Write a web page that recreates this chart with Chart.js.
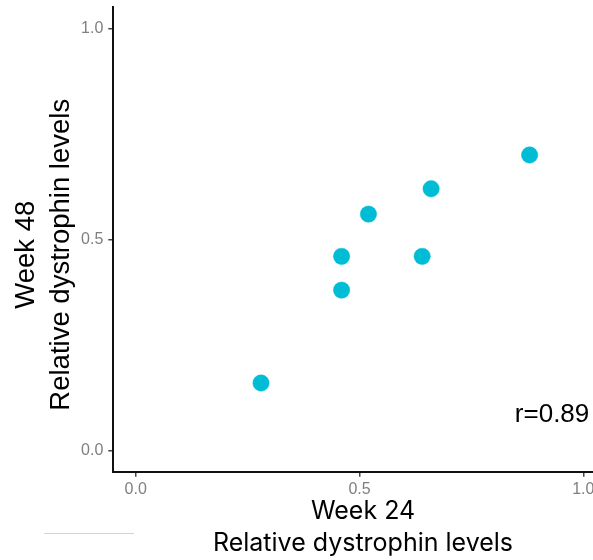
<!DOCTYPE html>
<html><head><meta charset="utf-8">
<script src="https://cdn.jsdelivr.net/npm/chart.js@4/dist/chart.umd.min.js"></script>
<style>html,body{margin:0;padding:0;overflow:hidden;background:#fff;width:593px;height:560px}</style>
</head><body>
<canvas id="c" width="630" height="560" style="display:block;width:630px;height:560px"></canvas>
<script>
const week24 = [0.28, 0.46, 0.46, 0.52, 0.64, 0.66, 0.88];
const week48 = [0.16, 0.38, 0.46, 0.56, 0.46, 0.62, 0.70];
const tickValues = [0, 0.5, 1];
const tickLabels = ['0.0', '0.5', '1.0'];
const xTitle = [' Week 24', ' Relative dystrophin levels'];
const yTitle = ['Week 48    ', 'Relative dystrophin levels    '];
const corrLabel = 'r=0.89';
const corrPos = [0.847, 0.068];

const points = week24.map((x, i) => ({x: x, y: week48[i]}));

const setTicks = s => { s.ticks = tickValues.map(v => ({value: v})); };
const fmt = v => { const i = tickValues.indexOf(v); return i >= 0 ? tickLabels[i] : ''; };

const annot = {
  id: 'annot',
  afterDatasetsDraw(chart) {
    const {ctx, scales} = chart;
    ctx.save();
    ctx.font = '26px "Liberation Sans", Arial, sans-serif';
    ctx.fillStyle = '#000';
    ctx.textBaseline = 'alphabetic';
    ctx.textAlign = 'left';
    ctx.fillText(corrLabel, scales.x.getPixelForValue(corrPos[0]), scales.y.getPixelForValue(corrPos[1]));
    ctx.strokeStyle = '#d3d3d3';
    ctx.lineWidth = 1;
    ctx.beginPath();
    ctx.moveTo(44, 533.5);
    ctx.lineTo(134, 533.5);
    ctx.stroke();
    ctx.restore();
  }
};

new Chart(document.getElementById('c'), {
  type: 'scatter',
  data: {datasets: [{
    data: points,
    backgroundColor: '#00BCD4',
    borderColor: '#00BCD4',
    borderWidth: 0.5,
    pointRadius: 8.2,
    pointHoverRadius: 8.2
  }]},
  options: {
    responsive: false,
    animation: false,
    events: [],
    layout: {autoPadding: false, padding: {top: 7.2, right: 24.3, left: 0, bottom: 0}},
    plugins: {legend: {display: false}, tooltip: {enabled: false}},
    scales: {
      x: {
        type: 'linear', min: -0.05, max: 1.05,
        afterBuildTicks: setTicks,
        afterFit: s => { s.height = 88.3; s.paddingLeft = 0; s.paddingRight = 0; },
        grid: {display: true, drawOnChartArea: false, drawTicks: true, tickLength: 5, color: '#444', lineWidth: 1.5},
        border: {display: true, color: '#111', width: 2},
        ticks: {callback: fmt, color: '#7f7f7f', font: {family: '"Liberation Sans", Arial', size: 16}, padding: 3, maxRotation: 0, autoSkip: false},
        title: {display: true, text: xTitle, color: '#000', font: {family: 'Inter, "Noto Sans", sans-serif', size: 25, lineHeight: 1.28}, padding: {top: 0, bottom: 1}}
      },
      y: {
        type: 'linear', min: -0.05, max: 1.05,
        afterBuildTicks: setTicks,
        afterFit: s => { s.width = 113.3; s.paddingTop = 0; s.paddingBottom = 0; },
        grid: {display: true, drawOnChartArea: false, drawTicks: true, tickLength: 5, color: '#444', lineWidth: 1.5},
        border: {display: true, color: '#111', width: 2},
        ticks: {callback: fmt, color: '#7f7f7f', font: {family: '"Liberation Sans", Arial', size: 16}, padding: 5, autoSkip: false},
        title: {display: true, text: yTitle, color: '#000', font: {family: '"Liberation Sans", Arial', size: 27.5, lineHeight: 1.28}, padding: {top: 9, bottom: 0}}
      }
    }
  },
  plugins: [annot]
});
</script>
</body></html>
